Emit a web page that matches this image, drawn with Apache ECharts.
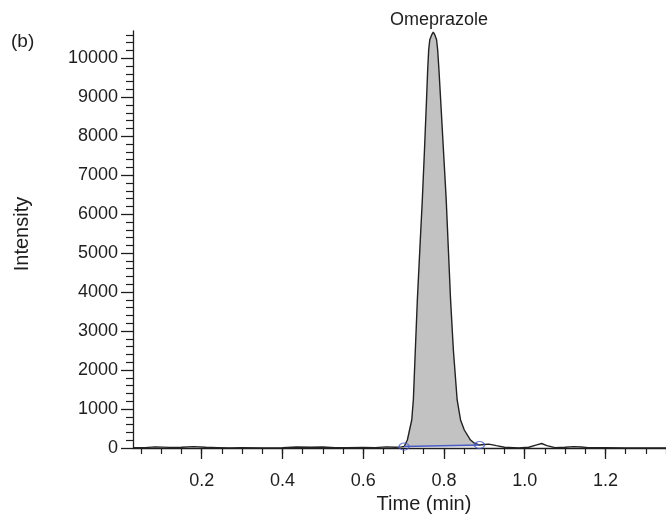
<!DOCTYPE html>
<html>
<head>
<meta charset="utf-8">
<script src="https://cdn.jsdelivr.net/npm/echarts@6/dist/echarts.min.js"></script>
<style>
html,body{margin:0;padding:0;background:#fff;}
#chart{width:666px;height:515px;}
</style>
</head>
<body>
<div id="chart"></div>
<script>
// ---- data ----
const baselineBefore = [
  [0.03, 5], [0.06, 10], [0.085, 30], [0.12, 15], [0.15, 20], [0.18, 35], [0.21, 20],
  [0.24, 10], [0.27, 0], [0.30, 5], [0.35, 0], [0.40, 5], [0.435, 25], [0.47, 20],
  [0.50, 25], [0.53, 10], [0.56, 5], [0.60, 15], [0.63, 10], [0.657, 30], [0.68, 20],
  [0.695, 30]
];
const peakPoints = [
  [0.7014, 38], [0.7095, 205], [0.7203, 719], [0.7243, 1232], [0.7292, 2516],
  [0.7342, 3800], [0.7403, 5083], [0.7465, 6367], [0.7519, 7651], [0.7569, 8935],
  [0.7598, 9705], [0.7623, 10218], [0.7650, 10475], [0.7700, 10610], [0.7736, 10670],
  [0.7772, 10610], [0.7818, 10475], [0.7845, 10218], [0.7877, 9705], [0.7919, 8935],
  [0.7988, 7651], [0.8057, 6367], [0.8111, 5083], [0.8165, 3800], [0.8234, 2516],
  [0.8328, 1232], [0.8412, 719], [0.8505, 462], [0.8659, 205], [0.8764, 116],
  [0.8880, 77]
];
const baselineAfter = [
  [0.90, 90], [0.911, 100], [0.93, 60], [0.95, 20], [0.985, 0], [1.01, 20], [1.03, 80],
  [1.042, 115], [1.055, 60], [1.075, 10], [1.10, 20], [1.121, 35], [1.14, 25],
  [1.157, 10], [1.20, 5], [1.25, 0], [1.30, 0], [1.35, 0]
];
const integrationBaseline = [[0.7014, 38], [0.8880, 77]];
const peakName = 'Omeprazole';
const xMajorTicks = [0.2, 0.4, 0.6, 0.8, 1.0, 1.2];
const xMinorTicks = [0.05, 0.1, 0.15, 0.2, 0.25, 0.3, 0.35, 0.4, 0.45, 0.5, 0.55, 0.6, 0.65,
  0.7, 0.75, 0.8, 0.85, 0.9, 0.95, 1.0, 1.05, 1.1, 1.15, 1.2, 1.25, 1.3, 1.35];
const yMajorTicks = [0, 1000, 2000, 3000, 4000, 5000, 6000, 7000, 8000, 9000, 10000];
const yMinorTicks = [200, 400, 600, 800, 1200, 1400, 1600, 1800, 2200, 2400, 2600, 2800,
  3200, 3400, 3600, 3800, 4200, 4400, 4600, 4800, 5200, 5400, 5600, 5800, 6200, 6400,
  6600, 6800, 7200, 7400, 7600, 7800, 8200, 8400, 8600, 8800, 9200, 9400, 9600, 9800,
  10200, 10400, 10600];

const trace = baselineBefore.concat(peakPoints, baselineAfter);

const FONT = '"Liberation Sans", Arial, Helvetica, sans-serif';
const INK = '#1e1e1e';
const X_MIN = 0.03, X_MAX = 1.35, Y_MIN = 0, Y_MAX = 10700;

const chart = echarts.init(document.getElementById('chart'), null, {renderer: 'canvas'});
chart.setOption({
  animation: false,
  backgroundColor: '#ffffff',
  grid: {left: 133, right: 0, top: 31, bottom: 67, containLabel: false, outerBoundsMode: 'none'},
  xAxis: [
    {
      type: 'value', min: X_MIN, max: X_MAX, position: 'bottom', offset: 5,
      name: 'Time (min)', nameLocation: 'middle', nameGap: 40,
      nameTextStyle: {fontFamily: FONT, fontSize: 20, color: INK, padding: [0, 0, 0, 49]},
      axisLine: {show: true, lineStyle: {color: INK, width: 1.3}},
      axisTick: {show: true, inside: false, length: 11, customValues: xMajorTicks,
        lineStyle: {color: INK, width: 1.3}},
      axisLabel: {show: true, margin: 19, customValues: xMajorTicks, fontFamily: FONT,
        fontSize: 18, color: INK, formatter: v => v.toFixed(1)},
      splitLine: {show: false}
    },
    {
      type: 'value', min: X_MIN, max: X_MAX, position: 'bottom', offset: 5,
      axisLine: {show: false},
      axisTick: {show: true, inside: false, length: 6, customValues: xMinorTicks,
        lineStyle: {color: INK, width: 1.2}},
      axisLabel: {show: false},
      splitLine: {show: false}
    }
  ],
  yAxis: [
    {
      type: 'value', min: Y_MIN, max: Y_MAX, position: 'left',
      name: 'Intensity', nameLocation: 'middle', nameGap: 101,
      nameTextStyle: {fontFamily: FONT, fontSize: 20, color: INK, padding: [0, 0, 0, 11]},
      axisLine: {show: true, lineStyle: {color: INK, width: 1.3}},
      axisTick: {show: true, inside: false, length: 12, customValues: yMajorTicks,
        lineStyle: {color: INK, width: 1.3}},
      axisLabel: {show: true, margin: 15, customValues: yMajorTicks, fontFamily: FONT,
        fontSize: 18, color: INK, formatter: v => String(v)},
      splitLine: {show: false}
    },
    {
      type: 'value', min: Y_MIN, max: Y_MAX, position: 'left',
      axisLine: {show: false},
      axisTick: {show: true, inside: false, length: 7, customValues: yMinorTicks,
        lineStyle: {color: INK, width: 1.2}},
      axisLabel: {show: false},
      splitLine: {show: false}
    }
  ],
  series: [
    {
      name: 'peak area', type: 'line', xAxisIndex: 0, yAxisIndex: 0,
      data: peakPoints, showSymbol: false, symbol: 'none', smooth: false,
      lineStyle: {width: 0},
      areaStyle: {color: '#c2c2c2', opacity: 1, origin: 40},
      z: 1, silent: true
    },
    {
      name: 'baseline', type: 'line', xAxisIndex: 0, yAxisIndex: 0,
      data: integrationBaseline, symbol: 'none',
      lineStyle: {color: '#4a5cc4', width: 1.3},
      z: 3, silent: true
    },
    {
      name: 'trace', type: 'line', xAxisIndex: 0, yAxisIndex: 0,
      data: trace, symbol: 'none', smooth: false,
      lineStyle: {color: '#222222', width: 1.4},
      z: 2, silent: true
    },
    {
      name: 'markers', type: 'scatter', xAxisIndex: 0, yAxisIndex: 0,
      data: integrationBaseline, symbol: 'circle', symbolSize: [10, 7],
      itemStyle: {color: 'rgba(0,0,0,0)', borderColor: '#4a5cc4', borderWidth: 1.2},
      z: 4, silent: true
    }
  ],
  graphic: [
    {type: 'text', left: 11, top: 32,
      style: {text: '(b)', fontFamily: FONT, fontSize: 19, fill: INK}},
    {type: 'text', x: 439, y: 20,
      style: {text: peakName, fontFamily: FONT, fontSize: 18, fill: INK,
        textAlign: 'center', textVerticalAlign: 'middle'}}
  ]
});
</script>
</body>
</html>
